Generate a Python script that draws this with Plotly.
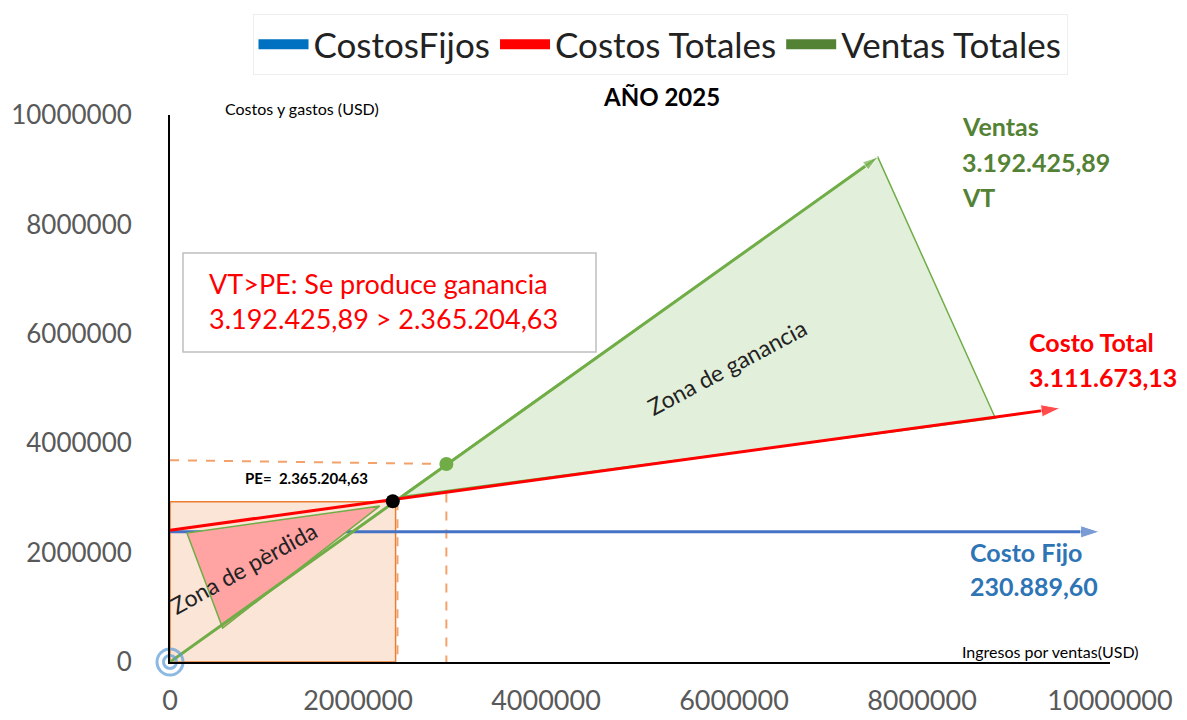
import plotly.graph_objects as go

# ---------------- data (USD) ----------------
fixed_x = [0, 9.89e6]
fixed_y = [2.38e6, 2.38e6]
total_x = [0, 9.47e6]
total_y = [2.41e6, 4.64e6]
sales_x = [0, 7.53e6]
sales_y = [0, 9.23e6]
pe_x = [2.37e6]
pe_y = [2.94e6]
vt_x = [2.94e6]
vt_y = [3.62e6]
loss_x = [0.18e6, 2.23e6, 0.56e6]
loss_y = [2.36e6, 2.85e6, 0.62e6]
gain_x = [2.45e6, 7.53e6, 8.78e6]
gain_y = [3.02e6, 9.23e6, 4.46e6]
rect_x = [0, 2.40e6]
rect_y = [0, 2.93e6]
guide_pe_x = [2.42e6]
guide_vt_y = [3.69e6]
tick_vals = [0, 2e6, 4e6, 6e6, 8e6, 10e6]
tick_text = ["0", "2000000", "4000000", "6000000", "8000000", "10000000"]

legend_names = ["CostosFijos", "Costos Totales", "Ventas Totales"]
legend_colors = ["#0070c0", "#ff0000", "#548235"]

FONT = "Lato"
OFF = 8                      # page body margin in the browser
W, H = 1187 - OFF, 720 - OFF
PL, PT, PWID, PHGT = 170, 115, 940, 547   # plot area in page pixels
ML, MT = PL - OFF, PT - OFF
MR = W - ML - PWID
MB = H - MT - PHGT


def px(xp):
    return (xp - PL) / PWID


def py(yp):
    return (PT + PHGT - yp) / PHGT


fig = go.Figure()

# PE region rectangle
fig.add_trace(go.Scatter(
    x=[rect_x[0], rect_x[1], rect_x[1], rect_x[0], rect_x[0]],
    y=[rect_y[0], rect_y[0], rect_y[1], rect_y[1], rect_y[0]],
    fill="toself", fillcolor="#fbe5d6", mode="lines",
    line=dict(color="#ed7d31", width=1.5), showlegend=False, hoverinfo="skip"))

# guide dashed lines
fig.add_trace(go.Scatter(x=[guide_pe_x[0], guide_pe_x[0]], y=[pe_y[0], 0], mode="lines",
                         line=dict(color="#f4a26b", width=2, dash="dash"),
                         showlegend=False, hoverinfo="skip"))
fig.add_trace(go.Scatter(x=[0, vt_x[0], vt_x[0]], y=[guide_vt_y[0], vt_y[0], 0], mode="lines",
                         line=dict(color="#f4a26b", width=2, dash="dash"),
                         showlegend=False, hoverinfo="skip"))

# fixed cost line
fig.add_trace(go.Scatter(x=fixed_x, y=fixed_y, mode="lines+markers",
                         line=dict(color="#4472c4", width=3),
                         marker=dict(symbol=["circle", "arrow"], size=[0, 20], angleref="previous",
                                     color="#4472c4"),
                         showlegend=False, hoverinfo="skip"))

# loss zone
fig.add_trace(go.Scatter(x=loss_x + [loss_x[0]], y=loss_y + [loss_y[0]], fill="toself",
                         fillcolor="#ffa3a3", mode="lines", line=dict(color="#70ad47", width=1.5),
                         showlegend=False, hoverinfo="skip"))
# gain zone
fig.add_trace(go.Scatter(x=gain_x + [gain_x[0]], y=gain_y + [gain_y[0]], fill="toself",
                         fillcolor="#e2efda", mode="lines", line=dict(color="#70ad47", width=1.5),
                         showlegend=False, hoverinfo="skip"))

# sales line
fig.add_trace(go.Scatter(x=sales_x, y=sales_y, mode="lines+markers",
                         line=dict(color="#70ad47", width=3),
                         marker=dict(symbol=["circle", "arrow"], size=[0, 16], angleref="previous",
                                     color="#70ad47"),
                         showlegend=False, hoverinfo="skip"))
# total cost line
fig.add_trace(go.Scatter(x=total_x, y=total_y, mode="lines+markers",
                         line=dict(color="#ff0000", width=3),
                         marker=dict(symbol=["circle", "arrow"], size=[0, 20], angleref="previous",
                                     color="#ff0000"),
                         showlegend=False, hoverinfo="skip"))

# points
fig.add_trace(go.Scatter(x=vt_x, y=vt_y, mode="markers", marker=dict(color="#70ad47", size=14),
                         showlegend=False, hoverinfo="skip"))
fig.add_trace(go.Scatter(x=pe_x, y=pe_y, mode="markers", marker=dict(color="#000000", size=14),
                         showlegend=False, hoverinfo="skip"))
fig.add_trace(go.Scatter(x=[0, 0], y=[0, 0], mode="markers",
                         marker=dict(symbol="circle-open", size=[26, 13], color="#5b9bd5",
                                     line=dict(width=3, color="#5b9bd5")),
                         showlegend=False, hoverinfo="skip", cliponaxis=False))

# legend entries
for name, col in zip(legend_names, legend_colors):
    fig.add_trace(go.Scatter(x=[None], y=[None], mode="lines", name=name,
                             line=dict(color=col, width=12)))

ann = []


def label(text, xp, yp, size, color, bold=False, xanchor="left", angle=0, yanchor="middle"):
    t = f"<b>{text}</b>" if bold else text
    ann.append(dict(text=t, x=px(xp), y=py(yp), xref="paper", yref="paper", showarrow=False,
                    xanchor=xanchor, yanchor=yanchor, textangle=angle,
                    font=dict(family=FONT, size=size, color=color)))


label("AÑO 2025", 661, 97, 24, "#000000", bold=True, xanchor="center")
label("Costos y gastos (USD)", 223, 108, 16, "#000000")
label("Ingresos por ventas(USD)", 960, 651, 16, "#000000")
label("Ventas", 960, 126, 25, "#548235", bold=True)
label("3.192.425,89", 960, 162, 25, "#548235", bold=True)
label("VT", 960, 197, 25, "#548235", bold=True)
label("Costo Total", 1027, 342, 25, "#ff0000", bold=True)
label("3.111.673,13", 1027, 377, 25, "#ff0000", bold=True)
label("Costo Fijo", 968, 552, 25, "#2e75b6", bold=True)
label("230.889,60", 968, 586, 25, "#2e75b6", bold=True)
label("PE=  2.365.204,63", 243, 478, 15, "#000000", bold=True)
label("VT&gt;PE: Se produce ganancia", 207, 283, 27, "#ff0000")
label("3.192.425,89 &gt; 2.365.204,63", 207, 318, 27, "#ff0000")
label("Zona de pèrdida", 243, 568, 23, "#222222", xanchor="center", angle=-29)
label("Zona de ganancia", 727, 367, 23, "#222222", xanchor="center", angle=-28)

fig.update_layout(
    width=W, height=H, autosize=False,
    margin=dict(l=ML, r=MR, t=MT, b=MB, autoexpand=False),
    paper_bgcolor="white", plot_bgcolor="white",
    font=dict(family=FONT),
    annotations=ann,
    shapes=[dict(type="rect", xref="paper", yref="paper", x0=px(183), x1=px(596),
                 y0=py(352), y1=py(253), line=dict(color="#bfbfbf", width=1.5), layer="above")],
    showlegend=True,
    legend=dict(orientation="h", xref="container", yref="container",
                x=(660 - OFF) / W, xanchor="center", y=1 - (14 - OFF) / H, yanchor="top",
                font=dict(family=FONT, size=35, color="#222222"),
                bgcolor="white", bordercolor="#eeeeee", borderwidth=1,
                itemwidth=50),
    xaxis=dict(range=[0, 10e6], tickvals=tick_vals, ticktext=tick_text, showgrid=False,
               zeroline=False, showline=True, linecolor="#000000", linewidth=2,
               ticks="", ticklabelstandoff=14, automargin=False,
               tickfont=dict(family=FONT, size=27, color="#595959")),
    yaxis=dict(range=[0, 10e6], tickvals=tick_vals, ticktext=tick_text, showgrid=False,
               zeroline=False, showline=True, linecolor="#000000", linewidth=2,
               ticks="", ticklabelstandoff=31, automargin=False,
               tickfont=dict(family=FONT, size=26, color="#595959")),
)

fig.write_html("out.html")
